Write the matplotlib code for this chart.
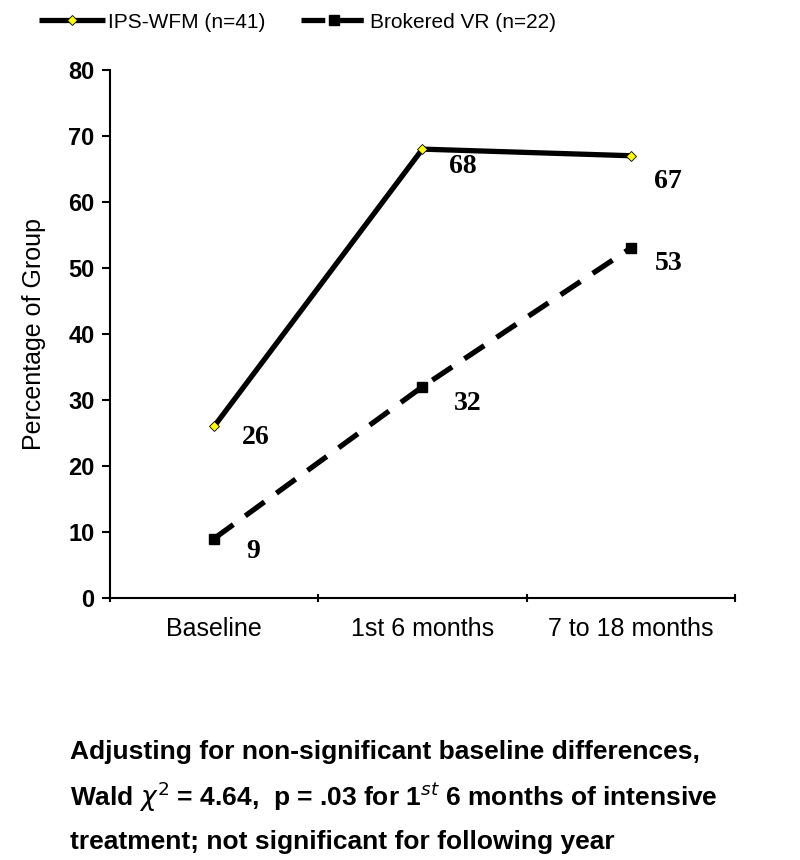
import matplotlib
matplotlib.use("Agg")
import matplotlib.pyplot as plt
import numpy as np

categories = ["Baseline", "1st 6 months", "7 to 18 months"]
ips_values = [26, 68, 67]
vr_values = [9, 32, 53]
ips_label = "IPS-WFM (n=41)"
vr_label = "Brokered VR (n=22)"
y_ticks = [0, 10, 20, 30, 40, 50, 60, 70, 80]
ips_offsets = [(42, -11), (40, -17), (37, -26)]
vr_offsets = [(39, -13), (45, -17), (38, -15)]

plt.rcParams['font.family'] = ['Liberation Sans', 'DejaVu Sans']

fig = plt.figure(figsize=(8, 8.6), dpi=100)
ax = fig.add_axes([0.1375, 0.3047, 0.781, 0.614])

x = np.arange(len(categories))
l1, = ax.plot(x, ips_values, color='black', lw=3.8, marker='D', markersize=5,
              markerfacecolor='#ffff00', markeredgecolor='black', markeredgewidth=0.6,
              solid_capstyle='butt', label=ips_label, zorder=3)
l2, = ax.plot(x, vr_values, color='black', lw=3.8, linestyle=(0, (4.5, 2.8)),
              marker='s', markersize=7.5, markerfacecolor='black', markeredgecolor='black',
              label=vr_label, zorder=3)

for xi, v, off in zip(x, ips_values, ips_offsets):
    ax.annotate(str(v), (xi, v), xytext=off, textcoords='offset pixels',
                ha='center', va='center', fontsize=20, fontweight='bold',
                family=['Liberation Serif', 'DejaVu Serif'])
for xi, v, off in zip(x, vr_values, vr_offsets):
    ax.annotate(str(v), (xi, v), xytext=off, textcoords='offset pixels',
                ha='center', va='center', fontsize=20, fontweight='bold',
                family=['Liberation Serif', 'DejaVu Serif'])

ax.set_xlim(-0.5, 2.5)
ax.set_ylim(0, 80)
ax.set_yticks(y_ticks)
ax.set_yticklabels([str(t) for t in y_ticks], fontsize=17, fontweight='bold')
ax.set_xticks(x)
ax.set_xticklabels(categories, fontsize=18)
ax.set_xticks([-0.5, 0.5, 1.5, 2.5], minor=True)
ax.tick_params(axis='x', which='major', length=0, pad=14)
ax.tick_params(axis='x', which='minor', length=6, width=1.5, direction='inout')
ax.tick_params(axis='y', which='major', length=6, width=1.5, direction='out', pad=5)
for s in ['top', 'right']:
    ax.spines[s].set_visible(False)
for s in ['left', 'bottom']:
    ax.spines[s].set_linewidth(1.5)
ax.set_ylabel("Percentage of Group", fontsize=18, labelpad=16)

fig.legend(handles=[l1, l2], loc='upper left', bbox_to_anchor=(0.025, 1.007), ncol=2,
           frameon=False, fontsize=15, handlelength=3.2, columnspacing=1.7,
           handletextpad=0.12)

foot = ["Adjusting for non-significant baseline differences,",
        r"Wald $\chi^2$ = 4.64,  p = .03 for 1$^{st}$ 6 months of intensive",
        "treatment; not significant for following year"]
for i, line in enumerate(foot):
    fig.text(0.088, 1 - (752 + 45 * i) / 860, line, fontsize=19, fontweight='bold',
             va='center', ha='left')

fig.savefig("out.png", dpi=100)
